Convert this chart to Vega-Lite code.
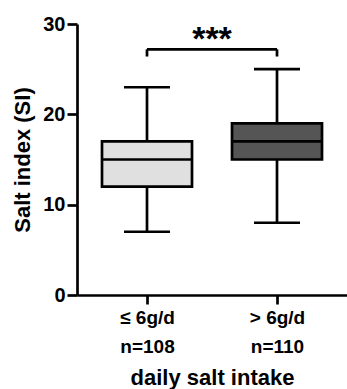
{
  "$schema": "https://vega.github.io/schema/vega-lite/v6.json",
  "width": 270,
  "height": 271,
  "autosize": {"type": "none"},
  "padding": {"left": 77, "top": 24, "right": 0, "bottom": 94},
  "background": "white",
  "config": {
    "view": {"stroke": null},
    "font": "Liberation Sans",
    "axis": {"grid": false, "domainColor": "black", "domainWidth": 2.7, "tickColor": "black", "tickWidth": 2.7, "labelColor": "black", "titleColor": "black", "labelFont": "Liberation Sans", "titleFont": "Liberation Sans", "labelFontWeight": "bold", "titleFontWeight": "bold"}
  },
  "datasets": {
    "boxes": [
      {"idx": 1, "group": "≤ 6g/d", "n": 108, "min": 7, "q1": 12, "median": 15, "q3": 17, "max": 23},
      {"idx": 2, "group": "> 6g/d", "n": 110, "min": 8, "q1": 15, "median": 17, "q3": 19, "max": 25}
    ],
    "bracket": [
      {"from": 1, "to": 2, "top": 27.2, "bottom": 26.4, "mid": 1.5, "star_y": 28.2, "label": "***"}
    ]
  },
  "encoding": {
    "x": {
      "type": "quantitative",
      "scale": {"domain": [0.5, 2.5], "nice": false, "zero": false},
      "axis": {
        "values": [1, 2],
        "title": "daily salt intake",
        "titleFontSize": 22,
        "titlePadding": 11,
        "labelFontSize": 19,
        "labelLineHeight": 29,
        "labelPadding": 4,
        "tickSize": 9,
        "labelExpr": "datum.value == 1 ? ['≤ 6g/d', 'n=108'] : ['> 6g/d', 'n=110']"
      }
    }
  },
  "layer": [
    {
      "data": {"name": "boxes"},
      "mark": {"type": "rule", "color": "black", "strokeWidth": 2.7},
      "encoding": {
        "x": {"field": "idx", "type": "quantitative"},
        "y": {"field": "min", "type": "quantitative", "scale": {"domain": [0, 30], "nice": false}, "axis": {"values": [0, 10, 20, 30], "title": "Salt index (SI)", "titleFontSize": 22, "titlePadding": 8, "labelFontSize": 20, "tickSize": 10, "labelPadding": 2}},
        "y2": {"field": "max"}
      }
    },
    {
      "data": {"name": "boxes"},
      "mark": {"type": "bar", "width": 90, "stroke": "black", "strokeWidth": 2.7},
      "encoding": {
        "x": {"field": "idx", "type": "quantitative"},
        "y": {"field": "q1", "type": "quantitative"},
        "y2": {"field": "q3"},
        "fill": {"field": "group", "type": "nominal", "scale": {"domain": ["≤ 6g/d", "> 6g/d"], "range": ["#e0e0e0", "#555555"]}, "legend": null}
      }
    },
    {
      "data": {"name": "boxes"},
      "mark": {"type": "tick", "orient": "horizontal", "size": 90, "thickness": 2.7, "color": "black", "opacity": 1},
      "encoding": {
        "x": {"field": "idx", "type": "quantitative"},
        "y": {"field": "median", "type": "quantitative"}
      }
    },
    {
      "data": {"name": "boxes"},
      "mark": {"type": "tick", "orient": "horizontal", "size": 46, "thickness": 2.7, "color": "black", "opacity": 1},
      "encoding": {
        "x": {"field": "idx", "type": "quantitative"},
        "y": {"field": "min", "type": "quantitative"}
      }
    },
    {
      "data": {"name": "boxes"},
      "mark": {"type": "tick", "orient": "horizontal", "size": 46, "thickness": 2.7, "color": "black", "opacity": 1},
      "encoding": {
        "x": {"field": "idx", "type": "quantitative"},
        "y": {"field": "max", "type": "quantitative"}
      }
    },
    {
      "data": {"name": "bracket"},
      "mark": {"type": "rule", "color": "black", "strokeWidth": 2.7},
      "encoding": {
        "x": {"field": "from", "type": "quantitative"},
        "x2": {"field": "to"},
        "y": {"field": "top", "type": "quantitative"}
      }
    },
    {
      "data": {"name": "bracket"},
      "mark": {"type": "rule", "color": "black", "strokeWidth": 2.7},
      "encoding": {
        "x": {"field": "from", "type": "quantitative"},
        "y": {"field": "top", "type": "quantitative"},
        "y2": {"field": "bottom"}
      }
    },
    {
      "data": {"name": "bracket"},
      "mark": {"type": "rule", "color": "black", "strokeWidth": 2.7},
      "encoding": {
        "x": {"field": "to", "type": "quantitative"},
        "y": {"field": "top", "type": "quantitative"},
        "y2": {"field": "bottom"}
      }
    },
    {
      "data": {"name": "bracket"},
      "mark": {"type": "text", "fontSize": 34, "fontWeight": "bold", "color": "black", "align": "center", "baseline": "middle"},
      "encoding": {
        "x": {"field": "mid", "type": "quantitative"},
        "y": {"field": "star_y", "type": "quantitative"},
        "text": {"field": "label"}
      }
    }
  ]
}
